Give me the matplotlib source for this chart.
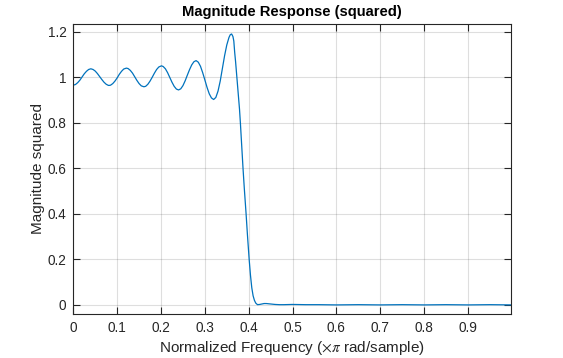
import matplotlib
matplotlib.use("Agg")
import matplotlib.pyplot as plt

# Normalized frequency (x pi rad/sample) and squared magnitude
freq = [0.000, 0.005, 0.010, 0.015, 0.020, 0.025, 0.030, 0.035, 0.040,
        0.045, 0.050, 0.055, 0.060, 0.065, 0.070, 0.075, 0.080, 0.082,
        0.085, 0.090, 0.095, 0.100, 0.105, 0.110, 0.115, 0.121,
        0.125, 0.130, 0.135, 0.140, 0.145, 0.150, 0.155, 0.161,
        0.165, 0.170, 0.175, 0.180, 0.185, 0.190, 0.195, 0.201,
        0.205, 0.210, 0.215, 0.220, 0.225, 0.230, 0.235, 0.240,
        0.245, 0.250, 0.255, 0.260, 0.265, 0.270, 0.275, 0.280,
        0.285, 0.290, 0.295, 0.300, 0.305, 0.310, 0.315, 0.320,
        0.325, 0.330, 0.335, 0.340, 0.345, 0.350, 0.355, 0.358, 0.361,
        0.364, 0.366, 0.368, 0.370, 0.373, 0.376, 0.379, 0.381, 0.384,
        0.387, 0.390, 0.394, 0.397, 0.401, 0.404, 0.407, 0.410, 0.413,
        0.416, 0.420, 0.425, 0.430, 0.435, 0.440, 0.445, 0.450, 0.460,
        0.470, 0.480, 0.500, 0.530, 0.560, 0.600, 0.650, 0.700, 0.750,
        0.800, 0.850, 0.900, 0.950, 0.998]
mag_sq = [0.966, 0.969, 0.977, 0.988, 1.002, 1.016, 1.027, 1.035, 1.038,
          1.035, 1.028, 1.017, 1.004, 0.991, 0.979, 0.970, 0.965, 0.965,
          0.966, 0.973, 0.984, 0.998, 1.014, 1.027, 1.037, 1.041,
          1.039, 1.031, 1.019, 1.003, 0.987, 0.973, 0.963, 0.959,
          0.961, 0.970, 0.984, 1.001, 1.019, 1.035, 1.046, 1.051,
          1.048, 1.038, 1.021, 1.000, 0.979, 0.961, 0.949, 0.945,
          0.950, 0.964, 0.985, 1.010, 1.034, 1.055, 1.069, 1.074,
          1.067, 1.049, 1.021, 0.989, 0.956, 0.928, 0.910, 0.903,
          0.912, 0.940, 0.984, 1.040, 1.096, 1.143, 1.176, 1.188, 1.191,
          1.180, 1.160, 1.110, 1.070, 1.000, 0.930, 0.860, 0.800, 0.700,
          0.600, 0.510, 0.400, 0.310, 0.200, 0.130, 0.075, 0.040, 0.020,
          0.008, 0.001, 0.002, 0.004, 0.006, 0.006, 0.005, 0.004, 0.002,
          0.001, 0.001, 0.002, 0.001, 0.001, 0.000, 0.001, 0.000, 0.001,
          0.000, 0.001, 0.000, 0.001, 0.000]

xticks = [0, 0.1, 0.2, 0.3, 0.4, 0.5, 0.6, 0.7, 0.8, 0.9]
xticklabels = ["0", "0.1", "0.2", "0.3", "0.4", "0.5", "0.6", "0.7", "0.8", "0.9"]
yticks = [0, 0.2, 0.4, 0.6, 0.8, 1.0, 1.2]
yticklabels = ["0", "0.2", "0.4", "0.6", "0.8", "1", "1.2"]

plt.rcParams['font.family'] = ['Liberation Sans', 'DejaVu Sans']
plt.rcParams['mathtext.fontset'] = 'stix'

dark = (0.15, 0.15, 0.15)
fig = plt.figure(figsize=(5.63, 3.58), dpi=100)
ax = fig.add_axes([0.1302, 0.1229, 0.7774, 0.8101])
ax.plot(freq, mag_sq, color='#0072BD', lw=0.9)
ax.set_xlim(0, 0.998)
ax.set_ylim(-0.04, 1.235)
ax.set_xticks(xticks)
ax.set_xticklabels(xticklabels)
ax.set_yticks(yticks)
ax.set_yticklabels(yticklabels)
ax.grid(True, color=(0.15, 0.15, 0.15), alpha=0.15, lw=0.8)
ax.set_axisbelow(True)
ax.tick_params(direction='in', length=5, width=0.8, colors=dark, labelsize=9.8,
               top=True, right=True, labelcolor=dark, pad=5)
for s in ax.spines.values():
    s.set_color(dark)
    s.set_linewidth(0.8)
ax.set_title('Magnitude Response (squared)', fontsize=10.6, fontweight='bold',
             color='black', pad=6)
ax.set_xlabel(r'Normalized Frequency ($\times\pi$ rad/sample)', fontsize=11,
              color=dark, labelpad=3)
ax.set_ylabel('Magnitude squared', fontsize=11, color=dark, labelpad=2)
fig.savefig('out.png', dpi=100)
